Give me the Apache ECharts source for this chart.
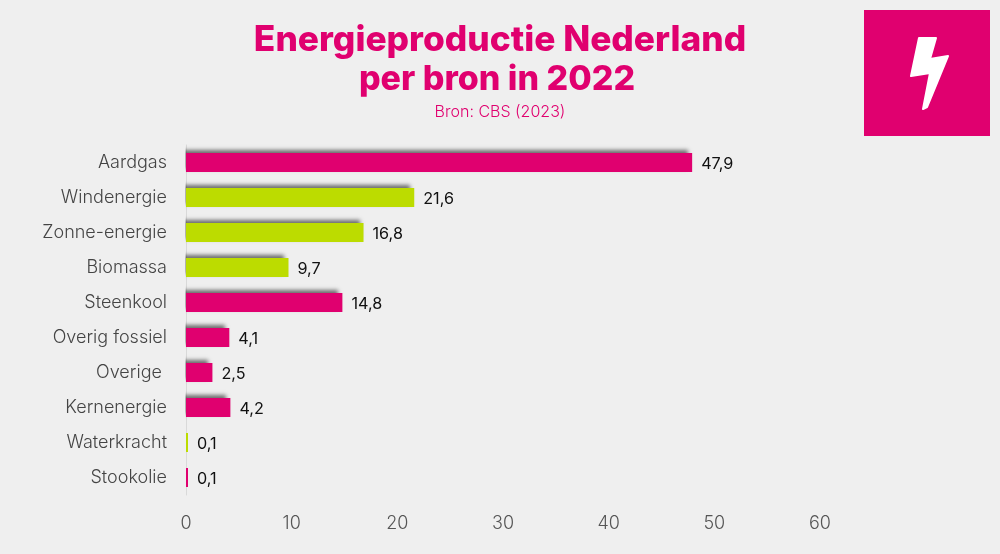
<!DOCTYPE html>
<html><head><meta charset="utf-8">
<style>html,body{margin:0;padding:0;background:#efefef}#c{width:1000px;height:554px}</style>
<script src="https://cdn.jsdelivr.net/npm/echarts@6/dist/echarts.min.js"></script>
</head><body><div id="c"></div>
<script>
const categories = ['Aardgas','Windenergie','Zonne-energie','Biomassa','Steenkool','Overig fossiel','Overige ','Kernenergie','Waterkracht','Stookolie'];
const values = [47.9,21.6,16.8,9.7,14.8,4.1,2.5,4.2,0.1,0.1];
const kinds = ['f','r','r','r','f','f','f','f','r','f'];
const PINK = '#e0006f', GREEN = '#bcdc00';
const font = 'Inter';
const chart = echarts.init(document.getElementById('c'), null, {renderer:'canvas'});
chart.setOption({
  backgroundColor:'#efefef',
  animation:false,
  title:[
    {text:'Energieproductie Nederland', left:495, top:18, textAlign:'center',
     textStyle:{fontFamily:font,fontSize:35.3,fontWeight:800,color:PINK}},
    {text:'per bron in 2022', left:492, top:58, textAlign:'center',
     textStyle:{fontFamily:font,fontSize:34,fontWeight:800,color:PINK}},
    {text:'Bron: CBS (2023)', left:495, top:99, textAlign:'center',
     textStyle:{fontFamily:font,fontSize:16,fontWeight:300,color:PINK}}
  ],
  grid:{left:186,top:145,width:634,height:350,containLabel:false},
  xAxis:{type:'value',min:0,max:60,interval:10,splitLine:{show:false},axisLine:{show:false},axisTick:{show:false},
    axisLabel:{fontFamily:font,fontSize:18,fontWeight:300,color:'#555',margin:20}},
  yAxis:{type:'category',inverse:true,data:categories,
    axisLine:{show:true,lineStyle:{color:'#d9d9d9',width:1}},axisTick:{show:false},
    axisLabel:{fontFamily:font,fontSize:18,fontWeight:300,color:'#444',margin:19}},
  series:[{type:'bar',barWidth:19,barMinHeight:2,
    data:values.map((v,i)=>({value:v,itemStyle:{color:kinds[i]==='r'?GREEN:PINK,
      shadowColor:v<1?'transparent':'rgba(0,0,0,0.55)',shadowBlur:4,shadowOffsetX:-4,shadowOffsetY:-3}})),
    label:{show:true,position:'right',distance:9,offset:[0,1.5],fontFamily:font,fontSize:16.2,color:'#111',
      formatter:p=>String(p.value).replace('.',',')}
  }],
  graphic:[
    {type:'rect',z:3,shape:{x:172,y:145,width:13.5,height:350},style:{fill:'#efefef'}},
    {type:'rect',shape:{x:864,y:10,width:126,height:126},style:{fill:PINK}},
    {type:'polygon',shape:{points:[[919,38],[936,38],[930,59],[948,56],[927,107],[923,109],[930,73],[911,76]]},
     style:{fill:'#fff',stroke:'#fff',lineWidth:2,lineJoin:'round'}}
  ]
});
</script></body></html>
